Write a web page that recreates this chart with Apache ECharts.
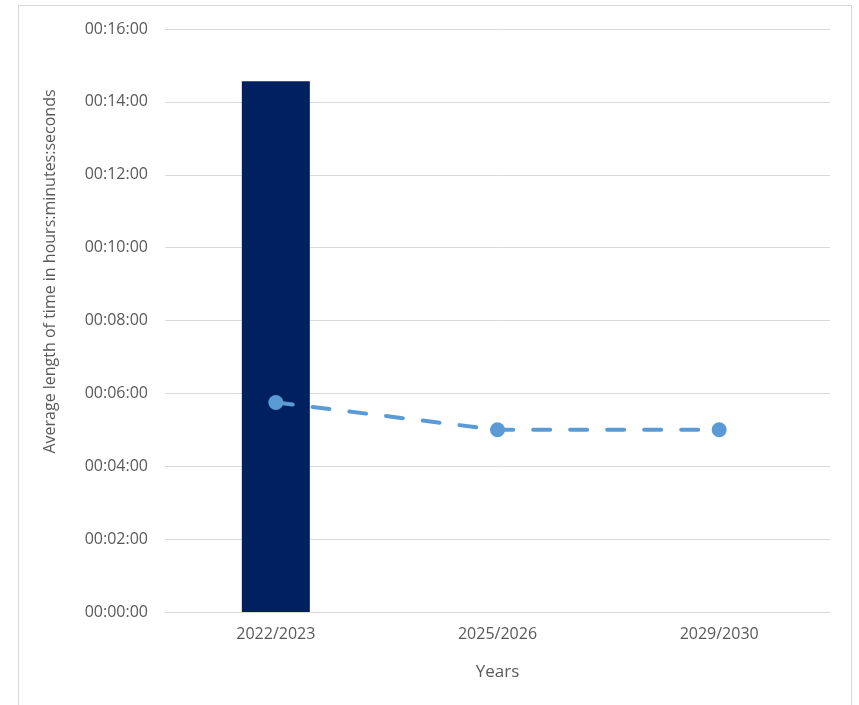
<!DOCTYPE html>
<html><head><meta charset="utf-8">
<script src="https://cdn.jsdelivr.net/npm/echarts@6/dist/echarts.min.js"></script>
<style>html,body{margin:0;padding:0;background:#fff}#c{width:859px;height:705px}</style>
</head><body><div id="c"></div>
<script>
const categories = ['2022/2023', '2025/2026', '2029/2030'];
// values in seconds
const barValues = [874, null, null];
const lineValues = [345, 300, 300];
const yTicks = [0, 120, 240, 360, 480, 600, 720, 840, 960];

function fmt(v) {
  const h = Math.floor(v / 3600), m = Math.floor((v % 3600) / 60), s = Math.round(v % 60);
  const p = n => String(n).padStart(2, '0');
  return p(h) + ':' + p(m) + ':' + p(s);
}

const chart = echarts.init(document.getElementById('c'), null, {renderer: 'canvas'});
const font = "'Open Sans', 'Noto Sans', sans-serif";
chart.setOption({
  animation: false,
  backgroundColor: '#fff',
  graphic: [{
    type: 'rect', shape: {x: 18.5, y: 5.5, width: 833, height: 720},
    style: {fill: 'none', stroke: '#d9d9d9', lineWidth: 1}, silent: true
  }],
  grid: {left: 165, right: 29, top: 29, bottom: 93},
  xAxis: {
    type: 'category', data: categories,
    name: 'Years', nameLocation: 'middle', nameGap: 52,
    nameTextStyle: {color: '#595959', fontSize: 17, fontFamily: font},
    axisLine: {lineStyle: {color: '#d9d9d9'}},
    axisTick: {show: false},
    axisLabel: {color: '#595959', fontSize: 16, fontFamily: font, margin: 14}
  },
  yAxis: {
    type: 'value', min: yTicks[0], max: yTicks[yTicks.length - 1], interval: 120,
    name: 'Average length of time in hours:minutes:seconds', nameLocation: 'middle', nameGap: 107,
    nameTextStyle: {color: '#595959', fontSize: 16, fontFamily: font, padding: [0, 0, 0, 98]},
    axisLine: {show: false}, axisTick: {show: false},
    splitLine: {lineStyle: {color: '#d9d9d9'}},
    axisLabel: {color: '#595959', fontSize: 16, fontFamily: font, margin: 17, formatter: fmt}
  },
  series: [{
    type: 'bar', data: barValues, barWidth: 68,
    itemStyle: {color: '#002060'}
  }, {
    type: 'line', data: lineValues, symbol: 'circle', symbolSize: 15,
    lineStyle: {color: '#5b9bd5', width: 4, type: [17, 20], cap: 'round'},
    itemStyle: {color: '#5b9bd5'}
  }]
});
</script></body></html>
